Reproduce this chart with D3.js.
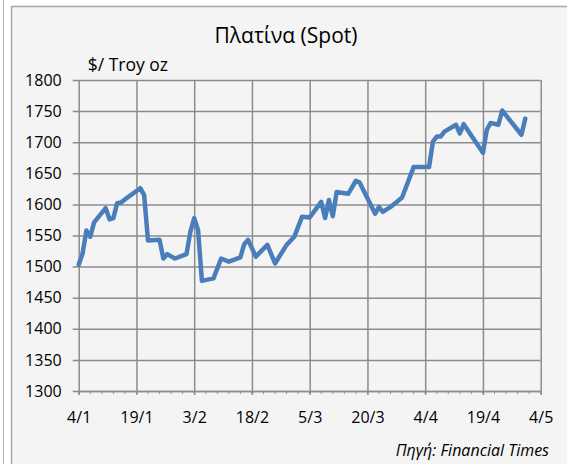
<!DOCTYPE html>
<html>
<head>
<meta charset="utf-8">
<script src="https://cdn.jsdelivr.net/npm/d3@7"></script>
<style>
	body { margin: 0; background: #ffffff; }
	svg { display: block; font-family: "Open Sans", Lato, sans-serif; }
</style>
</head>
<body>
<div id="chart"></div>
<script>
'use strict';

// Platinum spot price, $/troy oz
const dates = [
	'2011-01-04', '2011-01-05', '2011-01-06', '2011-01-07', '2011-01-08', '2011-01-11', '2011-01-12',
	'2011-01-13', '2011-01-14', '2011-01-15', '2011-01-16', '2011-01-20', '2011-01-21', '2011-01-22',
	'2011-01-25', '2011-01-26', '2011-01-27', '2011-01-29', '2011-02-01', '2011-02-02', '2011-02-03',
	'2011-02-04', '2011-02-05', '2011-02-08', '2011-02-10', '2011-02-12', '2011-02-15', '2011-02-16',
	'2011-02-17', '2011-02-19', '2011-02-22', '2011-02-24', '2011-02-27', '2011-03-01', '2011-03-03',
	'2011-03-05', '2011-03-08', '2011-03-09', '2011-03-10', '2011-03-11', '2011-03-12', '2011-03-15',
	'2011-03-17', '2011-03-18', '2011-03-22', '2011-03-23', '2011-03-24', '2011-03-26', '2011-03-29',
	'2011-04-01', '2011-04-05', '2011-04-06', '2011-04-07', '2011-04-08', '2011-04-09', '2011-04-12',
	'2011-04-13', '2011-04-14', '2011-04-19', '2011-04-20', '2011-04-21', '2011-04-23', '2011-04-24',
	'2011-04-29', '2011-04-30'
];
const prices = [
	1503, 1521, 1558, 1548, 1571, 1594, 1576,
	1578, 1602, 1603, 1608, 1626, 1615, 1542,
	1543, 1513, 1520, 1513, 1520, 1556, 1578,
	1559, 1477, 1481, 1513, 1508, 1515, 1536,
	1543, 1516, 1535, 1505, 1535, 1548, 1580,
	1579, 1604, 1578, 1607, 1581, 1620, 1617,
	1638, 1635, 1585, 1596, 1588, 1596, 1611,
	1660, 1660, 1701, 1709, 1709, 1717, 1728,
	1714, 1729, 1683, 1720, 1731, 1728, 1751,
	1712, 1738
];
const yTicks = [1300, 1350, 1400, 1450, 1500, 1550, 1600, 1650, 1700, 1750, 1800];
const xStart = '2011-01-04';
const xEnd = '2011-05-04';
const majorStep = 15;	// days
const minorStep = 3;	// days

const title = 'Πλατίνα (Spot)';
const unitLabel = '$/ Troy oz';
const sourceLabel = 'Πηγή: Financial Times';

const width = 567, height = 464;
const plot = { left: 78.7, right: 540.7, top: 80, bottom: 391 };
const gridColor = '#8c8c8c';
const lineColor = '#4a7ebb';
const fontFamily = '"Open Sans", Lato, sans-serif';

const parse = d3.utcParse('%Y-%m-%d');
const data = dates.map((d, i) => ({ date: parse(d), val: prices[i] }));
const t0 = parse(xStart), t1 = parse(xEnd);

const x = d3.scaleUtc()
	.domain([t0, t1])
	.range([plot.left, plot.right]);

const y = d3.scaleLinear()
	.domain([1300, 1800])
	.range([plot.bottom, plot.top]);

const nDays = d3.utcDay.count(t0, t1);
const majorTicks = d3.range(0, nDays + 1, majorStep).map(d => d3.utcDay.offset(t0, d));
const minorTicks = d3.range(0, nDays + 1, minorStep).map(d => d3.utcDay.offset(t0, d));

const svg = d3.select('#chart').append('svg')
	.attr('width', width)
	.attr('height', height);

// page edge and chart frame
svg.append('line')
	.attr('x1', 3.5).attr('x2', 3.5)
	.attr('y1', 0).attr('y2', height)
	.attr('stroke', '#b4b4b4')
	.attr('stroke-width', 1);

svg.append('rect')
	.attr('x', 11.5).attr('y', 6.5)
	.attr('width', width + 20).attr('height', height + 20)
	.attr('fill', '#f4f4f4')
	.attr('stroke', '#a6a6a6')
	.attr('stroke-width', 1.5);

// horizontal grid + y axis
const yAxis = d3.axisLeft(y)
	.tickValues(yTicks)
	.tickSizeInner(-(plot.right - plot.left))
	.tickSizeOuter(0)
	.tickPadding(17)
	.tickFormat(d3.format('d'));

const gy = svg.append('g')
	.attr('class', 'y axis')
	.attr('transform', 'translate(' + plot.left + ',0)')
	.call(yAxis);

gy.select('.domain').remove();
gy.selectAll('.tick line')
	.attr('x1', -6)
	.attr('stroke', gridColor)
	.attr('stroke-width', 1.5);
gy.selectAll('.tick text')
	.attr('fill', '#000')
	.attr('font-size', 16)
	.attr('font-family', fontFamily);

// minor ticks on x axis
svg.append('g')
	.attr('class', 'x minor')
	.selectAll('line')
	.data(minorTicks)
	.join('line')
	.attr('x1', d => x(d)).attr('x2', d => x(d))
	.attr('y1', plot.bottom).attr('y2', plot.bottom + 3)
	.attr('stroke', gridColor)
	.attr('stroke-width', 1);

// vertical grid + x axis
const xAxis = d3.axisBottom(x)
	.tickValues(majorTicks)
	.tickSizeInner(-(plot.bottom - plot.top))
	.tickSizeOuter(0)
	.tickPadding(21)
	.tickFormat(d3.utcFormat('%-d/%-m'));

const gx = svg.append('g')
	.attr('class', 'x axis')
	.attr('transform', 'translate(0,' + plot.bottom + ')')
	.call(xAxis);

gx.select('.domain')
	.attr('stroke', gridColor)
	.attr('stroke-width', 1.5);
gx.selectAll('.tick line')
	.attr('y1', 4)
	.attr('stroke', gridColor)
	.attr('stroke-width', 1.5);
gx.selectAll('.tick text')
	.attr('fill', '#000')
	.attr('font-size', 16)
	.attr('font-family', fontFamily);

// price line
const lineDrawer = d3.line()
	.x(d => x(d.date))
	.y(d => y(d.val));

svg.append('path')
	.datum(data)
	.attr('d', lineDrawer)
	.attr('fill', 'none')
	.attr('stroke', lineColor)
	.attr('stroke-width', 4.5)
	.attr('stroke-linejoin', 'round')
	.attr('stroke-linecap', 'round');

// texts
svg.append('text')
	.attr('x', 286)
	.attr('y', 43.3)
	.attr('text-anchor', 'middle')
	.attr('font-size', 21)
	.attr('fill', '#000')
	.text(title);

svg.append('text')
	.attr('x', 87.7)
	.attr('y', 70.7)
	.attr('font-size', 17.5)
	.attr('fill', '#000')
	.text(unitLabel);

svg.append('text')
	.attr('x', 549)
	.attr('y', 455.5)
	.attr('text-anchor', 'end')
	.attr('font-size', 16)
	.attr('font-style', 'italic')
	.attr('fill', '#000')
	.text(sourceLabel);
</script>
</body>
</html>
